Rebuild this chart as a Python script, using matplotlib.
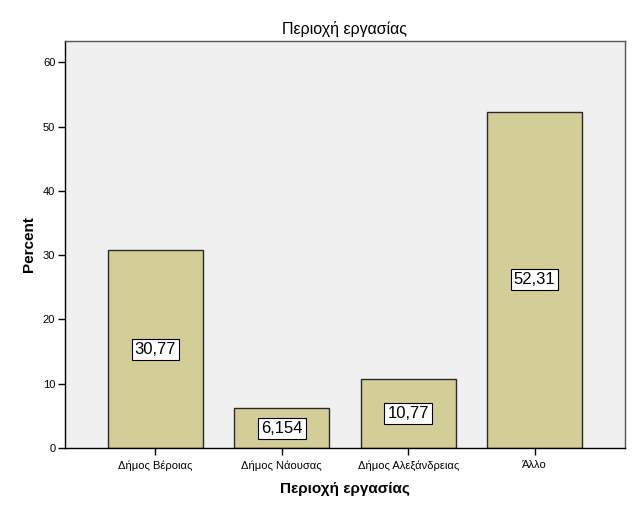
import matplotlib
matplotlib.use("Agg")
import matplotlib.pyplot as plt

plt.rcParams['font.family'] = ['Liberation Sans', 'DejaVu Sans']

categories = ['Δήμος Βέροιας', 'Δήμος Νάουσας', 'Δήμος Αλεξάνδρειας', 'Άλλο']
percent = [30.77, 6.154, 10.77, 52.31]
value_labels = ['30,77', '6,154', '10,77', '52,31']
y_ticks = [0, 10, 20, 30, 40, 50, 60]

bar_color = '#d3ce98'
bg_color = '#f0f0f0'

fig = plt.figure(figsize=(6.37, 5.05), dpi=100)
ax = fig.add_axes([65/637, 57/505, 560/637, 407/505])
ax.set_facecolor(bg_color)

x = range(len(categories))
ax.bar(x, percent, width=0.75, color=bar_color, edgecolor='#2a2a2a', linewidth=1.0, zorder=2)

# value boxes in the middle of each bar
for xi, val, lab in zip(x, percent, value_labels):
    ax.text(xi, val / 2, lab, ha='center', va='center', fontsize=12, zorder=3,
            bbox=dict(boxstyle='square,pad=0.18', facecolor='white', edgecolor='black', linewidth=0.8))

ax.set_xlim(-0.715, 3.715)
ax.set_ylim(0, 63.3)
ax.set_xticks(list(x))
ax.set_xticklabels(categories, fontsize=8)
ax.set_yticks(y_ticks)
ax.set_yticklabels([str(t) for t in y_ticks], fontsize=8)
ax.tick_params(direction='out', length=5, width=1, colors='black', pad=2)
ax.tick_params(axis='x', pad=4)

for s in ax.spines.values():
    s.set_color('#555555')
    s.set_linewidth(1)
ax.spines['left'].set_color('black')
ax.spines['bottom'].set_color('black')

ax.set_title('Περιοχή εργασίας', fontsize=11.5, pad=5)
ax.set_xlabel('Περιοχή εργασίας', fontsize=11, fontweight='bold', labelpad=8)
ax.set_ylabel('Percent', fontsize=11, fontweight='bold', labelpad=5)

fig.savefig('out.png', dpi=100, facecolor='white')
